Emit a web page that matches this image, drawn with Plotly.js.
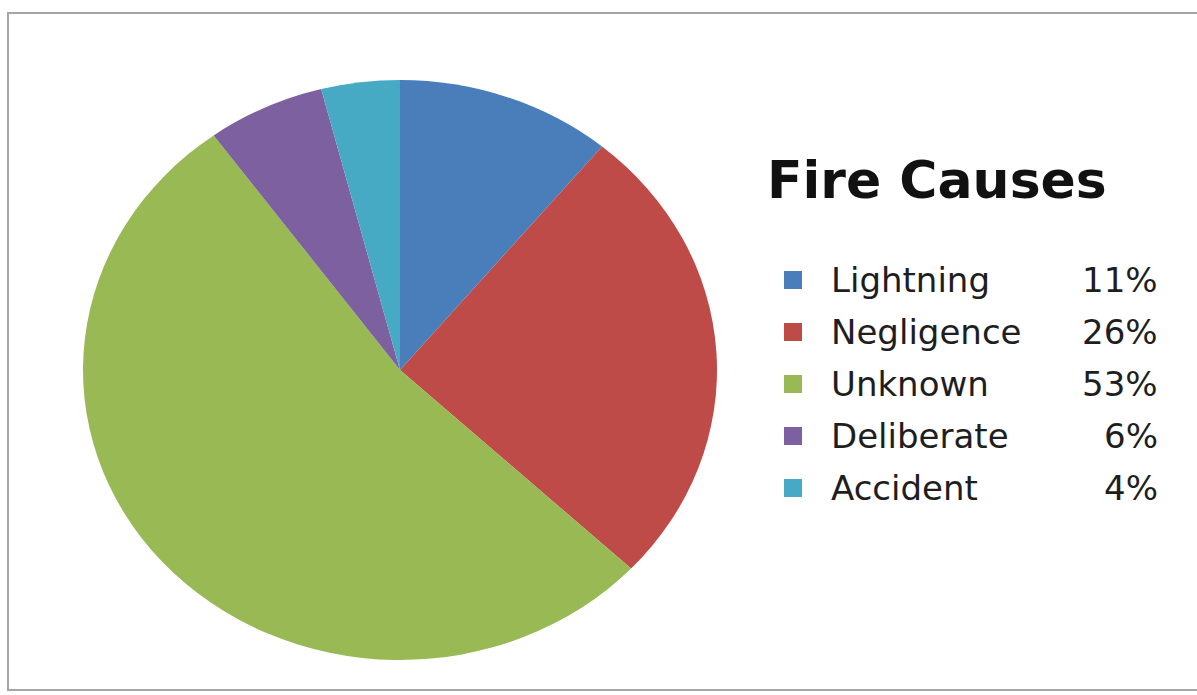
<!DOCTYPE html>
<html>
<head>
<meta charset="utf-8">
<script src="https://cdn.plot.ly/plotly-3.0.1.min.js"></script>
<style>
html,body{margin:0;padding:0;background:#fff;}
#chart{width:1197px;height:695px;}
</style>
</head>
<body>
<div id="chart"></div>
<script>
// ---- data ----
var categories = ["Lightning", "Negligence", "Unknown", "Deliberate", "Accident"];
var values = [11, 26, 53, 6, 4];
var colors = ["#4a7ebb", "#be4b48", "#98b954", "#7d60a0", "#46aac5"];
var chartTitle = "Fire Causes";

// ---- layout helpers ----
var W = 1197, H = 695;
function px(x){ return x / W; }
function py(y){ return 1 - y / H; }

var total = values.reduce(function(a,b){return a+b;}, 0);

var pieCx = 400, pieCy = 370, pieRy = 290, pieRx = 317;
var domX = [px(pieCx - pieRy), px(pieCx + pieRy)];
var domY = [py(pieCy + pieRy), py(pieCy - pieRy)];

var trace = {
  type: "pie",
  labels: categories,
  values: values,
  sort: false,
  direction: "clockwise",
  rotation: 0,
  textinfo: "none",
  hoverinfo: "label+percent",
  marker: {colors: colors, line: {width: 0}},
  domain: {x: domX, y: domY},
  showlegend: false
};

var annotations = [{
  text: "<b>" + chartTitle + "</b>",
  xref: "paper", yref: "paper",
  x: px(765), y: py(180), xanchor: "left", yanchor: "middle",
  showarrow: false,
  font: {family: "DejaVu Sans", size: 52, color: "#111"}
}];
var shapes = [{
  type: "rect", xref: "paper", yref: "paper",
  x0: px(8), x1: px(1205), y0: py(690), y1: py(13),
  line: {color: "#a6a6a6", width: 2}, fillcolor: "rgba(0,0,0,0)"
}];

var rowStart = 280, rowStep = 52;
categories.forEach(function(c, i){
  var yc = rowStart + i * rowStep;
  shapes.push({
    type: "rect", xref: "paper", yref: "paper",
    x0: px(784), x1: px(802), y0: py(yc + 9), y1: py(yc - 9),
    line: {width: 0}, fillcolor: colors[i]
  });
  annotations.push({
    text: c, xref: "paper", yref: "paper",
    x: px(829), y: py(yc), xanchor: "left", yanchor: "middle",
    showarrow: false,
    font: {family: "DejaVu Sans", size: 34, color: "#1e1e1e"}
  });
  annotations.push({
    text: Math.round(values[i] / total * 100) + "%",
    xref: "paper", yref: "paper",
    x: px(1160), y: py(yc), xanchor: "right", yanchor: "middle",
    showarrow: false,
    font: {family: "DejaVu Sans", size: 34, color: "#1e1e1e"}
  });
});

var layout = {
  width: W, height: H,
  margin: {l: 0, r: 0, t: 0, b: 0},
  paper_bgcolor: "#ffffff",
  plot_bgcolor: "#ffffff",
  showlegend: false,
  annotations: annotations,
  shapes: shapes
};

Plotly.newPlot("chart", [trace], layout, {displayModeBar: false, staticPlot: true}).then(function(gd){
  // stretch the pie horizontally to match the elliptical original
  var s = pieRx / pieRy;
  var layer = gd.querySelector(".pielayer");
  if (layer) {
    layer.setAttribute("transform",
      "translate(" + pieCx + ",0) scale(" + s + ",1) translate(" + (-pieCx) + ",0)");
  }
});
</script>
</body>
</html>
